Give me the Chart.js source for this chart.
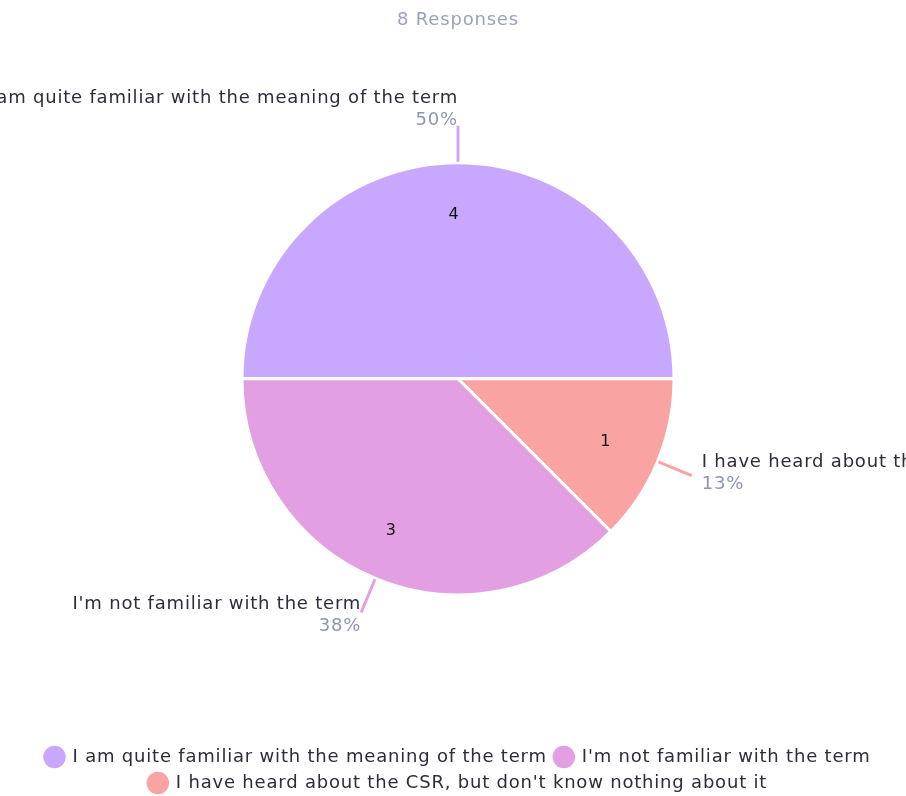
<!DOCTYPE html>
<html>
<head>
<meta charset="utf-8">
<title>8 Responses</title>
<script src="https://cdn.jsdelivr.net/npm/chart.js@4.4.1/dist/chart.umd.min.js"></script>
<style>
    html, body { margin: 0; padding: 0; background: #fff; overflow: hidden; }
    #wrap { width: 906px; height: 796px; }
</style>
</head>
<body>
<div id="wrap"><canvas id="csrChart" width="906" height="796"></canvas></div>
<script>
// Chart data (slice order = clockwise from 9 o'clock)
const categories = [
    'I am quite familiar with the meaning of the term',
    "I have heard about the CSR, but don't know nothing about it",
    "I'm not familiar with the term"
];
const responses = [4, 1, 3];
const percentLabels = ['50%', '13%', '38%'];
const legendOrder = [0, 2, 1];
const sliceColors = ['#c8a8ff', '#f9a3a3', '#e2a0e2'];

const FONT = "'DejaVu Sans', sans-serif";
const LETTER_SPACING = '0.8px';

// wider text, like the original font (canvas resets clear it, so set it each pass)
const spacingPlugin = {
    id: 'spacing',
    beforeLayout(chart) { chart.ctx.letterSpacing = LETTER_SPACING; },
    beforeDraw(chart) { chart.ctx.letterSpacing = LETTER_SPACING; }
};

// Callout labels outside the pie + value inside each slice
const calloutPlugin = {
    id: 'callouts',
    afterDatasetsDraw(chart) {
        const ctx = chart.ctx;
        const meta = chart.getDatasetMeta(0);
        meta.data.forEach((arc, i) => {
            const {x, y, startAngle, endAngle, outerRadius} = arc.getProps(['x', 'y', 'startAngle', 'endAngle', 'outerRadius'], true);
            const mid = (startAngle + endAngle) / 2;
            const cos = Math.cos(mid), sin = Math.sin(mid);

            // value inside slice
            ctx.save();
            ctx.fillStyle = '#111';
            ctx.font = '16px ' + FONT;
            ctx.textAlign = 'center';
            ctx.textBaseline = 'middle';
            ctx.fillText(String(responses[i]), x + cos * outerRadius * 0.76 - 4, y + sin * outerRadius * 0.76);

            // leader line
            const sx = x + cos * (outerRadius + 1), sy = y + sin * (outerRadius + 1);
            const ex = x + cos * (outerRadius + 37), ey = y + sin * (outerRadius + 37);
            ctx.strokeStyle = sliceColors[i];
            ctx.lineWidth = 3;
            ctx.beginPath();
            ctx.moveTo(sx, sy);
            ctx.lineTo(ex, ey);
            ctx.stroke();

            // label + percentage
            const right = cos > 0.1;
            const tx = right ? ex + 10 : ex;
            const ly = ey - 17 + 10 * sin;
            ctx.textAlign = right ? 'left' : 'right';
            ctx.fillStyle = '#2c2d3c';
            ctx.font = '18px ' + FONT;
            ctx.fillText(categories[i], tx, ly);
            ctx.fillStyle = '#8e95b2';
            ctx.fillText(percentLabels[i], tx, ly + 22);
            ctx.restore();
        });
    }
};

new Chart(document.getElementById('csrChart'), {
    type: 'pie',
    data: {
        labels: categories,
        datasets: [{
            data: responses,
            backgroundColor: sliceColors,
            borderColor: '#ffffff',
            borderWidth: 3,
            radius: 216
        }]
    },
    options: {
        responsive: false,
        animation: false,
        rotation: -90,
        layout: { padding: { left: 10, bottom: -6 } },
        plugins: {
            title: {
                display: true,
                text: '8 Responses',
                color: '#9aa1bb',
                font: { family: FONT, size: 18, weight: 'normal' },
                padding: { top: 10, bottom: -14 }
            },
            legend: {
                position: 'bottom',
                labels: {
                    usePointStyle: true,
                    pointStyle: 'circle',
                    boxHeight: 18,
                    color: '#2c2d3c',
                    padding: 8,
                    font: { family: FONT, size: 18 },
                    sort: (a, b) => legendOrder[a.index] - legendOrder[b.index]
                }
            },
            tooltip: { enabled: false }
        }
    },
    plugins: [spacingPlugin, calloutPlugin]
});
</script>
</body>
</html>
